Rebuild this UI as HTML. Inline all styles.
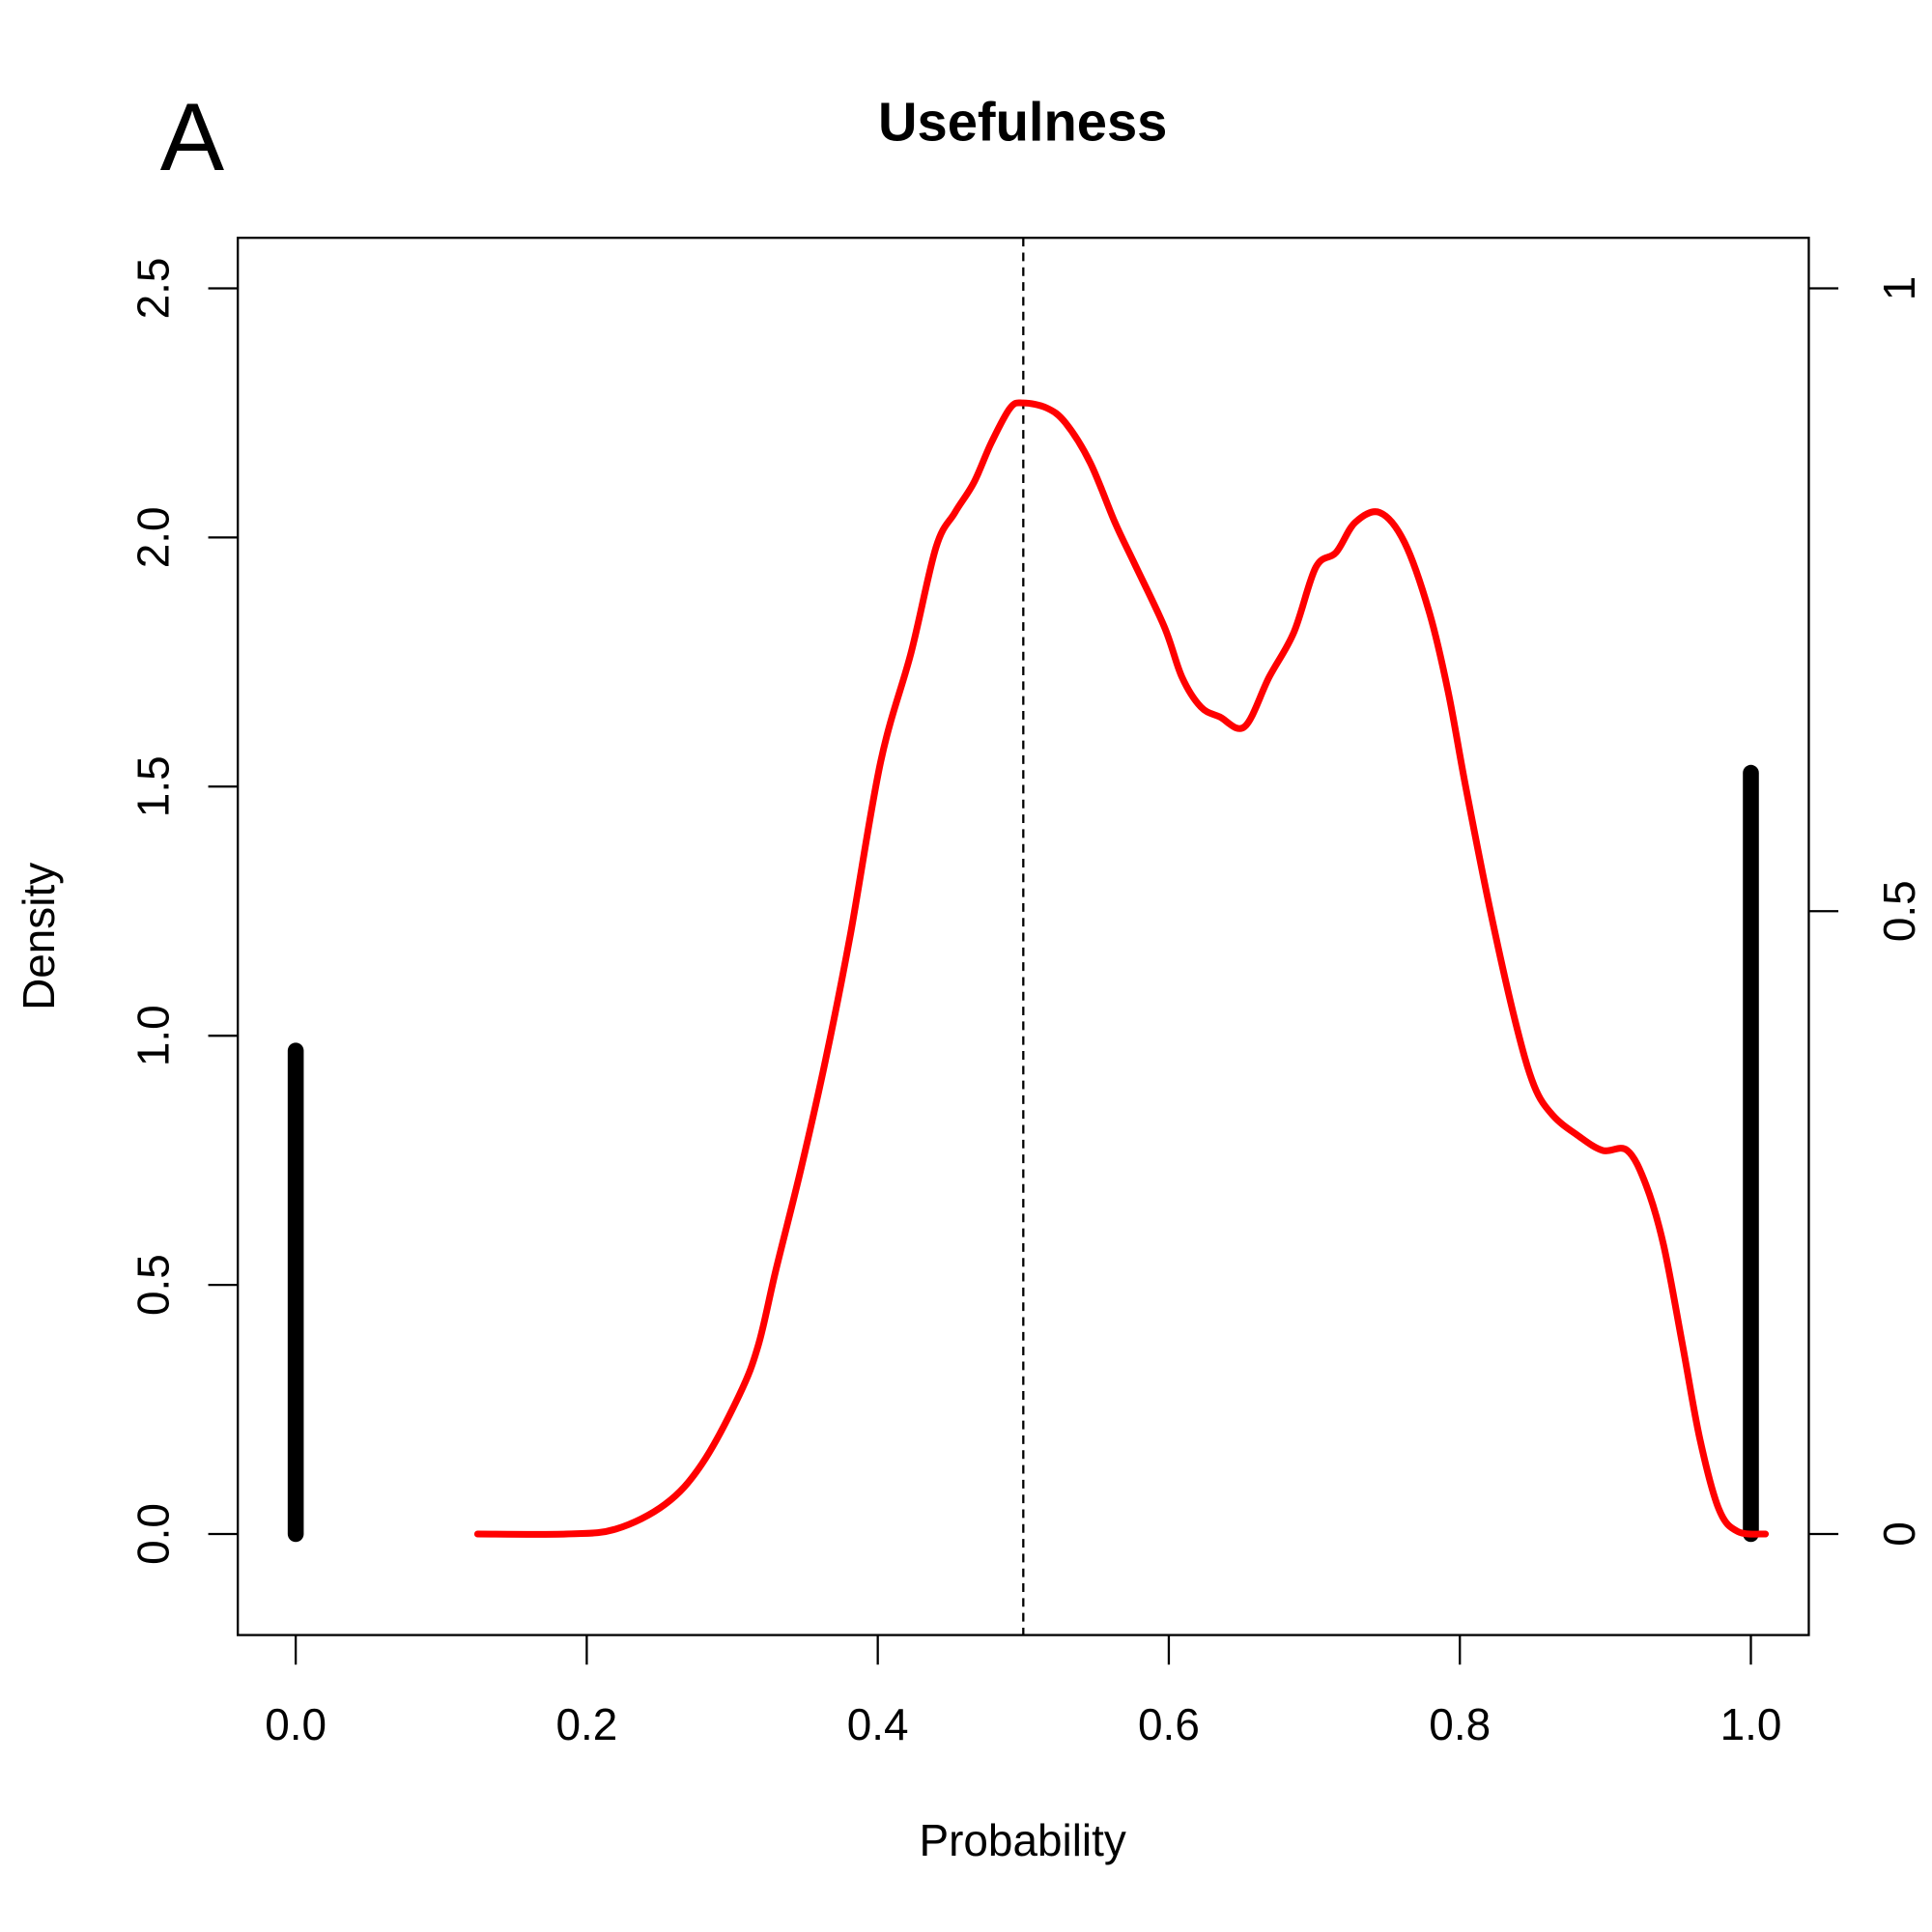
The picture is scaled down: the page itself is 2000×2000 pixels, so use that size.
<!DOCTYPE html>
<html><head><meta charset="utf-8"><style>html,body{margin:0;padding:0;background:#fff}svg{display:block}text{font-family:"Liberation Sans",Arial,sans-serif}</style></head>
<body>
<svg id="chart" width="2000" height="2000" viewBox="0 0 1568 1568" xmlns="http://www.w3.org/2000/svg">
<rect width="1568" height="1568" fill="#fff"/>
<g id="axes"></g>
<g id="marks"></g>
</svg>
<script>
const xs = [0.125,0.186,0.22,0.254,0.279,0.305,0.318,0.33,0.347,0.364,0.381,0.402,0.423,0.44,0.453,0.466,0.478,0.491,0.5,0.516,0.529,0.546,0.563,0.576,0.597,0.609,0.622,0.635,0.652,0.669,0.686,0.701,0.715,0.728,0.745,0.762,0.779,0.792,0.804,0.821,0.838,0.851,0.864,0.881,0.898,0.915,0.928,0.94,0.953,0.965,0.978,0.991,1.01];
const density = [0,0,0.01,0.06,0.14,0.28,0.38,0.53,0.73,0.95,1.2,1.55,1.77,1.98,2.05,2.11,2.19,2.26,2.27,2.26,2.23,2.15,2.03,1.95,1.82,1.72,1.66,1.64,1.62,1.72,1.81,1.94,1.97,2.03,2.05,1.99,1.85,1.69,1.5,1.25,1.03,0.9,0.84,0.8,0.77,0.77,0.7,0.58,0.38,0.19,0.05,0.005,0];
const barX = [0,1];
const barProp = [0.388,0.611];
const xTicks = [0,0.2,0.4,0.6,0.8,1.0];
const xTickLabels = ["0.0","0.2","0.4","0.6","0.8","1.0"];
const yTicks = [0,0.5,1,1.5,2,2.5];
const yTickLabels = ["0.0","0.5","1.0","1.5","2.0","2.5"];
const rTicks = [0,0.5,1];
const rTickLabels = ["0","0.5","1"];
const medianX = 0.5;

const NS="http://www.w3.org/2000/svg";
const sx = v => 240 + v*1181;
const sy = v => 1245 - v*404.4;
const sr = v => 1245 - v*1011;
const axes=document.getElementById('axes'), marks=document.getElementById('marks');
function mk(tag, attrs, parent, txt){const e=document.createElementNS(NS,tag);for(const k in attrs)e.setAttribute(k,attrs[k]);if(txt!==undefined)e.textContent=txt;parent.appendChild(e);return e;}

let e;
e=mk('rect',{x:193,y:193,width:1275,height:1134,fill:'none',stroke:'#000','stroke-width':1.8},axes);


xTicks.forEach((t,i)=>{
  e=mk('line',{x1:sx(t),x2:sx(t),y1:1327,y2:1351,stroke:'#000','stroke-width':1.8},axes);
  
  
  e=mk('text',{x:sx(t),y:1412,'font-size':36,'text-anchor':'middle'},axes,xTickLabels[i]);
  
  
});
yTicks.forEach((t,i)=>{
  e=mk('line',{x1:169,x2:193,y1:sy(t),y2:sy(t),stroke:'#000','stroke-width':1.8},axes);
  
  
  e=mk('text',{x:0,y:0,'font-size':36,'text-anchor':'middle',transform:`translate(137,${sy(t)}) rotate(-90)`},axes,yTickLabels[i]);
  
  
});
rTicks.forEach((t,i)=>{
  e=mk('line',{x1:1468,x2:1492,y1:sr(t),y2:sr(t),stroke:'#000','stroke-width':1.8},axes);
  
  
  e=mk('text',{x:0,y:0,'font-size':36,'text-anchor':'middle',transform:`translate(1554,${sr(t)}) rotate(-90)`},axes,rTickLabels[i]);
  
  
});
e=mk('text',{x:830,y:1506,'font-size':36,'text-anchor':'middle'},axes,'Probability');


e=mk('text',{x:0,y:0,'font-size':36,'text-anchor':'middle',transform:'translate(44,760) rotate(-90)'},axes,'Density');


e=mk('text',{x:830,y:114,'font-size':44,'font-weight':'bold','text-anchor':'middle'},axes,'Usefulness');


e=mk('text',{x:130,y:138,'font-size':78},axes,'A');



e=mk('line',{x1:sx(medianX),x2:sx(medianX),y1:193,y2:1327,stroke:'#000','stroke-width':1.8,'stroke-dasharray':'7,5'},marks);


barX.forEach((b,i)=>{
  e=mk('line',{x1:sx(b),x2:sx(b),y1:sr(0),y2:sr(barProp[i]),stroke:'#000','stroke-width':13,'stroke-linecap':'round'},marks);
  
  
});
const pts=xs.map((x,i)=>[sx(x),sy(density[i])]);
let d=`M${pts[0][0]},${pts[0][1]}`;
for(let i=0;i<pts.length-1;i++){
  const p0=pts[Math.max(0,i-1)],p1=pts[i],p2=pts[i+1],p3=pts[Math.min(pts.length-1,i+2)];
  const c1=[p1[0]+(p2[0]-p0[0])/6,p1[1]+(p2[1]-p0[1])/6],c2=[p2[0]-(p3[0]-p1[0])/6,p2[1]-(p3[1]-p1[1])/6];
  d+=` C${c1[0]},${c1[1]} ${c2[0]},${c2[1]} ${p2[0]},${p2[1]}`;
}
e=mk('path',{d:d,fill:'none',stroke:'#ff0000','stroke-width':5.5,'stroke-linejoin':'round','stroke-linecap':'round'},marks);


</script>
</body></html>
